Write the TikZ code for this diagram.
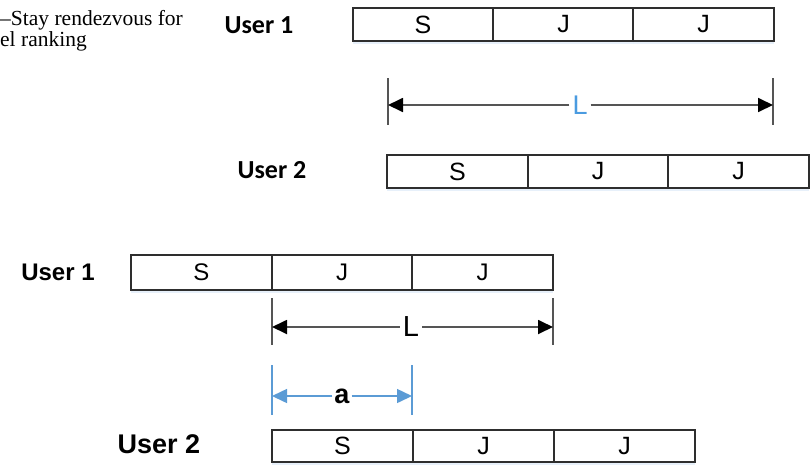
\documentclass[tikz,border=0pt]{standalone}
\usepackage{fontspec}
\setmainfont{Liberation Sans}
\newfontfamily\capfont{Liberation Serif}
\newfontfamily\calfont{Carlito}
\usetikzlibrary{arrows.meta,shadows}
\definecolor{boxline}{HTML}{2E2E2E}
\definecolor{dimgray}{HTML}{555555}
\definecolor{lblue}{HTML}{4A9BE0}
\definecolor{ablue}{HTML}{5B9BD5}
\definecolor{glow}{HTML}{E4EEFA}
\tikzset{
  cellbox/.style={draw=boxline, fill=white, line width=1.6pt, minimum width=140.5pt, minimum height=33pt,
     inner sep=0pt, font=\fontsize{25}{25}\selectfont,
     drop shadow={fill=glow, shadow xshift=0pt, shadow yshift=-3pt, opacity=0.9}},
  userA/.style={font=\calfont\bfseries\fontsize{26}{26}\selectfont, anchor=base, inner sep=0pt},
  userB/.style={font=\bfseries\fontsize{24}{24}\selectfont, anchor=base, inner sep=0pt},
  bar/.style={draw=dimgray, line width=1.8pt},
  dim/.style={draw=dimgray, line width=1.8pt, -{Triangle[length=15pt,width=14pt,color=black]}},
  bluebar/.style={draw=ablue, line width=1.5pt},
  bluedim/.style={draw=ablue, line width=1.5pt, -{Triangle[length=15pt,width=14pt]}},
  dimlabel/.style={fill=white, inner sep=3pt, font=\fontsize{27}{27}\selectfont}
}
\begin{document}
\begin{tikzpicture}[x=1pt,y=-1pt]
\useasboundingbox (0,0) rectangle (810,464);
% caption fragment
\node[anchor=base west, inner sep=0pt, font=\capfont\fontsize{21.5}{21.5}\selectfont] (cap1) at (0,25) {–Stay rendezvous for};
\node[anchor=base west, inner sep=0pt, font=\capfont\fontsize{21.5}{21.5}\selectfont] (cap2) at (0,46) {el ranking};

% ---- top panel ----
\node[userA] (tu1) at (259,33) {User 1};
\node[cellbox] (t1a) at (423,24.5) {S};
\node[cellbox] (t1b) at (563.5,24.5) {J};
\node[cellbox] (t1c) at (703.5,24.5) {J};

\coordinate (tLa) at (388,78); \coordinate (tLb) at (388,125);
\coordinate (tRa) at (773,78); \coordinate (tRb) at (773,125);
\draw[bar] (tLa) -- (tLb);
\draw[bar] (tRa) -- (tRb);
\coordinate (tL) at (388,105); \coordinate (tR) at (773,105);
\node[dimlabel, text=lblue] (tlab) at (580,105) {L};
\draw[dim] (tlab.west) -- (tL);
\draw[dim] (tlab.east) -- (tR);

\node[userA] (tu2) at (272,178) {User 2};
\node[cellbox] (t2a) at (457.5,171.5) {S};
\node[cellbox] (t2b) at (598,171.5) {J};
\node[cellbox] (t2c) at (738.5,171.5) {J};

% ---- bottom panel ----
\node[userB] (bu1) at (58,280) {User 1};
\node[cellbox, minimum height=35pt, font=\fontsize{24}{24}\selectfont] (b1a) at (201.5,272.5) {S};
\node[cellbox, minimum height=35pt, font=\fontsize{24}{24}\selectfont] (b1b) at (342,272.5) {J};
\node[cellbox, minimum height=35pt, font=\fontsize{24}{24}\selectfont] (b1c) at (482.5,272.5) {J};

\coordinate (bLa) at (272,298); \coordinate (bLb) at (272,345);
\coordinate (bRa) at (553,298); \coordinate (bRb) at (553,345);
\draw[bar, line width=1.5pt] (bLa) -- (bLb);
\draw[bar, line width=1.5pt] (bRa) -- (bRb);
\coordinate (bL) at (272,327); \coordinate (bR) at (553,327);
\node[dimlabel, font=\fontsize{29}{29}\selectfont] (blab) at (411,327) {L};
\draw[dim] (blab.west) -- (bL);
\draw[dim] (blab.east) -- (bR);

\coordinate (aLa) at (272,365); \coordinate (aLb) at (272,415);
\coordinate (aRa) at (412,365); \coordinate (aRb) at (412,415);
\draw[bluebar] (aLa) -- (aLb);
\draw[bluebar] (aRa) -- (aRb);
\coordinate (aL) at (272,396); \coordinate (aR) at (412,396);
\node[dimlabel, inner sep=2pt, font=\bfseries\fontsize{27}{27}\selectfont] (alab) at (342,396) {a};
\draw[bluedim] (alab.west) -- (aL);
\draw[bluedim] (alab.east) -- (aR);

\node[userB, font=\bfseries\fontsize{27}{27}\selectfont] (bu2) at (159,453) {User 2};
\node[cellbox, minimum height=32pt] (b2a) at (342.5,446) {S};
\node[cellbox, minimum height=32pt] (b2b) at (483.5,446) {J};
\node[cellbox, minimum height=32pt] (b2c) at (624.5,446) {J};
\end{tikzpicture}
\end{document}
